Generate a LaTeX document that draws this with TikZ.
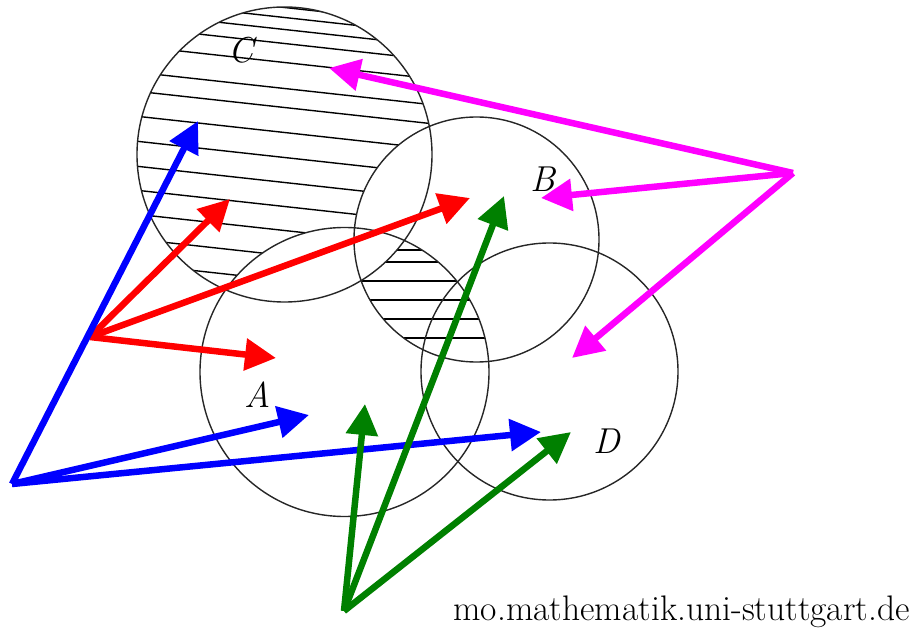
\documentclass[tikz,border=0pt]{standalone}
\usepackage{fontspec}
\usetikzlibrary{arrows.meta}
\definecolor{vred}{RGB}{255,0,0}
\definecolor{vblue}{RGB}{0,0,255}
\definecolor{vgreen}{RGB}{0,128,0}
\definecolor{vmag}{RGB}{255,0,255}
\begin{document}
\begin{tikzpicture}[x=1pt,y=-1pt,
  setcircle/.style={draw=black!85, line width=1.4pt, circle, inner sep=0pt, outer sep=0pt},
  hatchline/.style={draw=black, line width=1.4pt},
  vec/.style={line width=6.5pt, -{Triangle[length=31pt,width=31pt]}},
  setlabel/.style={font=\fontsize{36}{38}\selectfont\itshape},
]
\useasboundingbox (0,0) rectangle (916,631);
% circle centres and radii (px)
\def\rC{147.5}\def\rB{122.5}\def\rA{144.5}\def\rD{128.5}
\coordinate (Cc) at (284.5,154.5);
\coordinate (Bc) at (476.5,239.5);
\coordinate (Ac) at (344.5,372);
\coordinate (Dc) at (549.5,371.5);
% hatching of C without A and B
\begin{scope}
  \clip (Cc) circle[radius=\rC pt];
  \foreach \y in {7,17,29,43,62,88,107,132,157,182,206,230,255,280,305}
    \draw[hatchline] (130,{\y-16.5}) -- (440,{\y+17.6});
  \fill[white] (Ac) circle[radius=\rA pt];
  \fill[white] (Bc) circle[radius=\rB pt];
\end{scope}
% hatching of A and B without C
\begin{scope}
  \clip (Ac) circle[radius=\rA pt];
  \clip (Bc) circle[radius=\rB pt];
  \foreach \y in {250,262,281,300,319,338}
    \draw[hatchline] (340,\y) -- (500,\y);
  \fill[white] (Cc) circle[radius=\rC pt];
\end{scope}
% circles
\node[setcircle, minimum size=295pt] (C) at (Cc) {};
\node[setcircle, minimum size=245pt] (B) at (Bc) {};
\node[setcircle, minimum size=289pt] (A) at (Ac) {};
\node[setcircle, minimum size=257pt] (D) at (Dc) {};
% labels
\node[setlabel] (lC) at (241,50) {C};
\node[setlabel] (lB) at (543,179) {B};
\node[setlabel] (lA) at (258,395) {A};
\node[setlabel] (lD) at (607,441) {D};
% arrow origins and tips
\coordinate (R) at (90,337);
\coordinate (R1) at (230,199);
\coordinate (R2) at (470,198);
\coordinate (R3) at (276,358);
\coordinate (Bl) at (12,484);
\coordinate (Bl1) at (198,121);
\coordinate (Bl2) at (309,415);
\coordinate (Bl3) at (541,432);
\coordinate (G) at (344,611);
\coordinate (G1) at (365,404);
\coordinate (G2) at (504,196);
\coordinate (G3) at (571,432);
\coordinate (M) at (793,173);
\coordinate (M1) at (329,68);
\coordinate (M2) at (541,198);
\coordinate (M3) at (572,358);
% arrows
\foreach \t in {R1,R2,R3} \draw[vec, vred] (R) -- (\t);
\foreach \t in {Bl1,Bl2,Bl3} \draw[vec, vblue] (Bl) -- (\t);
\foreach \t in {G1,G2,G3} \draw[vec, vgreen] (G) -- (\t);
\foreach \t in {M1,M2,M3} \draw[vec, vmag] (M) -- (\t);
% watermark
\node[anchor=base east, inner sep=0pt, font=\fontsize{35.5}{37}\selectfont] (wm) at (910,620) {mo.mathematik.uni-stuttgart.de};
\end{tikzpicture}
\end{document}
